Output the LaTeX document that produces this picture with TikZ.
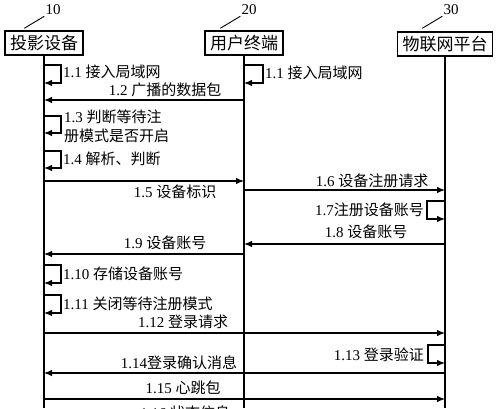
\documentclass[tikz,border=0pt]{standalone}
\usepackage{fontspec}
\setmainfont{Liberation Serif}
\newfontfamily\cjk{Noto Sans CJK SC}
\newcommand{\zh}[1]{{\cjk #1}}
\usetikzlibrary{arrows.meta, positioning, calc}
\tikzset{
  actor/.style={draw, line width=1.2pt, inner xsep=5pt, inner ysep=3pt, minimum height=24pt, font=\fontsize{17}{17}\selectfont},
  life/.style={line width=1.3pt},
  msg/.style={line width=1.1pt, -{Latex[length=8pt,width=6.5pt]}},
  lbl/.style={inner sep=0pt, font=\fontsize{15}{19}\selectfont, align=left},
  tag/.style={inner sep=1pt, font=\fontsize{15}{15}\selectfont}
}

\begin{document}
\begin{tikzpicture}[x=1pt,y=-1pt]
\useasboundingbox (0,0) rectangle (500,408);
% Participants
\node[actor] (dev) at (44,43) {\zh{投影设备}};
\node[actor] (term) at (244,43) {\zh{用户终端}};
\node[actor] (plat) at (445,44) {\zh{物联网平台}};

% Reference numbers
\node[tag] (n10) at (53,10) {10};
\node[tag] (n20) at (249,10) {20};
\node[tag] (n30) at (451,10) {30};
\draw[line width=0.9pt] (n10.south west) -- ++(-20,12);
\draw[line width=0.9pt] (n20.south west) -- ++(-20,12);
\draw[line width=0.9pt] (n30.south west) -- ++(-20,12);

% Lifelines
\coordinate (bot) at (0,408);
\draw[life] (dev) -- (dev |- bot);
\draw[life] (term) -- (term |- bot);
\draw[life] (plat) -- (plat |- bot);

% Message rows
\coordinate (y11) at (0,65);
\coordinate (y12) at (0,100);
\coordinate (y13) at (0,116);
\coordinate (y14) at (0,151);
\coordinate (y15) at (0,181);
\coordinate (y16) at (0,190);
\coordinate (y17) at (0,201);
\coordinate (y18) at (0,244);
\coordinate (y19) at (0,254);
\coordinate (y110) at (0,265);
\coordinate (y111) at (0,295);
\coordinate (y112) at (0,333);
\coordinate (y113) at (0,345);
\coordinate (y114) at (0,373);
\coordinate (y115) at (0,399);

% Pairing
\draw[msg] (dev |- y11) -- ++(17,0) -- ++(0,18) -- ++(-17,0);
\node[lbl, anchor=west] (l11a) at (63,72) {1.1 \zh{接入局域网}};
\draw[msg] (term |- y11) -- ++(19,0) -- ++(0,18) -- ++(-19,0);
\node[lbl, anchor=west] (l11b) at (265,73) {1.1 \zh{接入局域网}};
\draw[msg] (term |- y12) -- (dev |- y12);
\node[lbl] (l12) at (165,90) {1.2 \zh{广播的数据包}};
\draw[msg] (dev |- y13) -- ++(17,0) -- ++(0,17) -- ++(-17,0);
\node[lbl, anchor=west] (l13) at (64,126) {1.3 \zh{判断等待注}\\\zh{册模式是否开启}};
\draw[msg] (dev |- y14) -- ++(17,0) -- ++(0,17) -- ++(-17,0);
\node[lbl, anchor=west] (l14) at (63,159) {1.4 \zh{解析、判断}};

% Registration
\draw[msg] (dev |- y15) -- (term |- y15);
\node[lbl] (l15) at (175,192) {1.5 \zh{设备标识}};
\draw[msg] (term |- y16) -- (plat |- y16);
\node[lbl] (l16) at (372,181) {1.6 \zh{设备注册请求}};
\draw[msg] (plat |- y17) -- ++(-18,0) -- ++(0,18) -- ++(18,0);
\node[lbl, anchor=east] (l17) at (424,210) {1.7\zh{注册设备账号}};
\draw[msg] (plat |- y18) -- (term |- y18);
\node[lbl] (l18) at (366,232) {1.8 \zh{设备账号}};
\draw[msg] (term |- y19) -- (dev |- y19);
\node[lbl] (l19) at (165,243) {1.9 \zh{设备账号}};
\draw[msg] (dev |- y110) -- ++(17,0) -- ++(0,18) -- ++(-17,0);
\node[lbl, anchor=west] (l110) at (63,274) {1.10 \zh{存储设备账号}};
\draw[msg] (dev |- y111) -- ++(17,0) -- ++(0,18) -- ++(-17,0);
\node[lbl, anchor=west] (l111) at (63,304) {1.11 \zh{关闭等待注册模式}};

% Login
\draw[msg] (dev |- y112) -- (plat |- y112);
\node[lbl] (l112) at (183,322) {1.12 \zh{登录请求}};
\draw[msg] (plat |- y113) -- ++(-17,0) -- ++(0,18) -- ++(17,0);
\node[lbl, anchor=east] (l113) at (424,355) {1.13 \zh{登录验证}};
\draw[msg] (plat |- y114) -- (dev |- y114);
\node[lbl] (l114) at (179,363) {1.14\zh{登录确认消息}};
\draw[msg] (dev |- y115) -- (plat |- y115);
\node[lbl] (l115) at (183,388) {1.15 \zh{心跳包}};
\node[lbl] (l116) at (185,413) {1.16 \zh{状态信息}};
\end{tikzpicture}
\end{document}
